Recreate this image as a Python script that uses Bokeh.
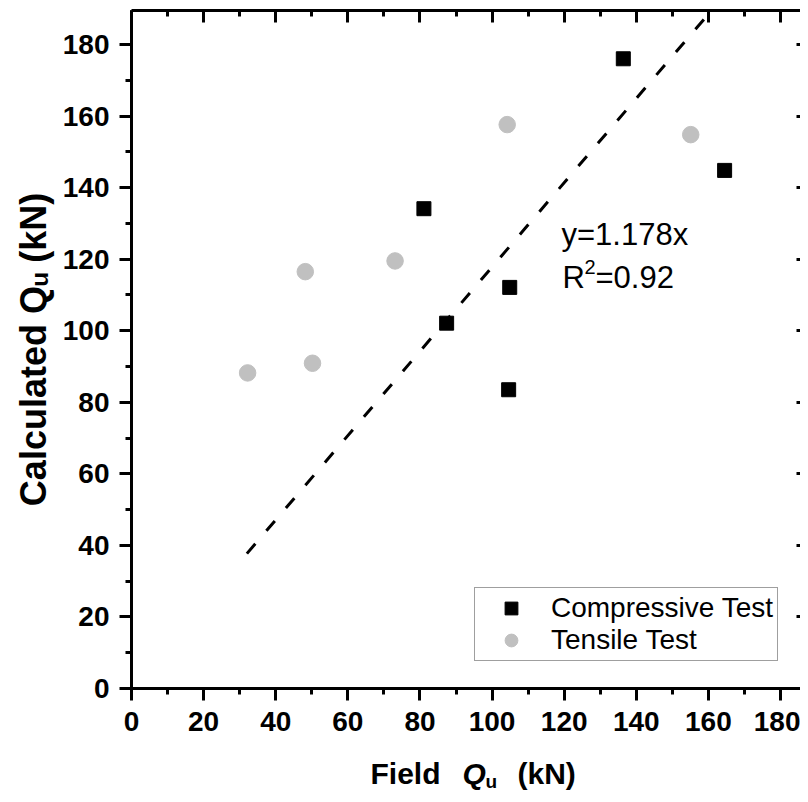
from bokeh.plotting import figure
from bokeh.layouts import column
from bokeh.models import (Label, LinearAxis, SingleIntervalTicker, Range1d,
                          Legend, LegendItem, CustomJSTickFormatter)
from bokeh.embed import file_html
from bokeh.resources import INLINE

# ---------------- data ----------------
comp_x = [136.4, 164.5, 81.1, 87.4, 104.9, 104.6]
comp_y = [176.0, 144.8, 134.1, 102.1, 112.1, 83.5]
tens_x = [32.2, 48.2, 50.2, 73.1, 104.2, 155.1]
tens_y = [88.2, 116.5, 90.9, 119.5, 157.6, 154.8]
slope = 1.178
r_squared = 0.92
fit_x = [32.0, 170.0]
fit_y = [slope * v for v in fit_x]
series_names = ["Compressive Test", "Tensile Test"]
x_label_parts = ["Field", "Q", "u", "(kN)"]
y_label = "Calculated Q\u1d64 (kN)"

FONT = "Liberation Sans"
BASE = 0.29   # observed shift between label anchor and drawn baseline (em)

# page geometry
W, H = 800, 794
MAIN_H = 748            # height of the main figure
FL, FB = 131.0, 688.0   # frame left / bottom on page
PX_X, PX_Y = 3.6056, 3.578

p = figure(width=W, height=MAIN_H,
           x_range=Range1d(0, (W - FL) / PX_X),
           y_range=Range1d(0, (FB - 10) / PX_Y),
           output_backend="svg", toolbar_location=None,
           min_border_left=int(FL), min_border_right=0,
           min_border_top=10, min_border_bottom=MAIN_H - int(FB))
p.outline_line_color = None
p.grid.visible = False


def style_axis(ax, inward=False):
    ax.ticker = SingleIntervalTicker(interval=20, num_minor_ticks=2)
    ax.axis_line_width = 3
    ax.axis_line_color = "black"
    ax.major_tick_line_width = 3
    ax.minor_tick_line_width = 3
    ax.major_tick_line_color = "black"
    ax.minor_tick_line_color = "black"
    if inward:
        ax.major_tick_in, ax.major_tick_out = 12, 0
        ax.minor_tick_in, ax.minor_tick_out = 6, 0
        ax.formatter = CustomJSTickFormatter(code="return ''")
        ax.major_label_text_font_size = "1px"
        ax.major_label_standoff = 0
    else:
        ax.major_tick_in, ax.major_tick_out = 0, 12
        ax.minor_tick_in, ax.minor_tick_out = 0, 6
        ax.major_label_text_font = FONT
        ax.major_label_text_font_style = "bold"
        ax.major_label_text_font_size = "28px"
        ax.major_label_text_color = "black"


style_axis(p.xaxis[0])
style_axis(p.yaxis[0])
p.xaxis[0].major_label_standoff = 11
p.yaxis[0].major_label_standoff = 10

yax = p.yaxis[0]
yax.axis_label = y_label
yax.axis_label_text_font = FONT
yax.axis_label_text_font_style = "bold"
yax.axis_label_text_font_size = "36px"
yax.axis_label_text_color = "black"
yax.axis_label_standoff = 6

top = LinearAxis()
style_axis(top, inward=True)
p.add_layout(top, "above")

right = LinearAxis()
style_axis(right, inward=True)
right.axis_line_color = None
right.major_tick_in = 4
right.minor_tick_line_color = None
p.add_layout(right, "right")

# fit line
p.line(fit_x, fit_y, line_color="black", line_width=3, line_dash="13 17")

r1 = p.scatter(comp_x, comp_y, marker="square", size=14,
               fill_color="black", line_color="black")
r2 = p.scatter(tens_x, tens_y, marker="circle", size=16.5,
               fill_color="#c0c0c0", line_color="#c0c0c0")

legend = Legend(items=[LegendItem(label=series_names[0], renderers=[r1]),
                       LegendItem(label=series_names[1], renderers=[r2])],
                location=(474 - FL, FB - 661), margin=0, padding=4,
                spacing=0, glyph_width=64, glyph_height=32, label_standoff=8,
                label_text_font=FONT, label_text_font_size="28px",
                label_text_color="black",
                border_line_color="#404040", border_line_width=1,
                background_fill_color="white", background_fill_alpha=1)
p.add_layout(legend)


def lab(fig, text, x, y, size, style="normal"):
    fig.add_layout(Label(x=x, y=y, text=text, x_units="data",
                         y_units="data", text_font=FONT,
                         text_font_size=f"{size}px", text_font_style=style,
                         text_color="black",
                         text_align="left", text_baseline="alphabetic"))


def mx(px):
    return (px - FL) / PX_X


def my(py):
    return (FB - py) / PX_Y


# equation annotations (page baseline -> anchor)
lab(p, f"y={slope}x", mx(561), my(243 - BASE * 31), 31)
lab(p, "R", mx(562), my(286 - BASE * 31), 31)
lab(p, "2", mx(584), my(272 - BASE * 20), 20)
lab(p, f"={r_squared}", mx(595), my(286 - BASE * 31), 31)

# ---- x-title strip (below the main figure; its frame aligns with main) ----
XH = H - MAIN_H
xf = figure(width=W, height=XH, x_range=Range1d(FL, W),
            y_range=Range1d(0, XH), output_backend="svg",
            toolbar_location=None, x_axis_location=None,
            y_axis_location=None, min_border=0,
            min_border_left=int(FL), min_border_right=0)
xf.outline_line_color = None
xf.grid.visible = False


def by(py):
    return H - py


lab(xf, x_label_parts[0], 370, by(782 - BASE * 30), 30, "bold")
lab(xf, x_label_parts[1], 462, by(782 - BASE * 30), 30, "bold italic")
lab(xf, x_label_parts[2], 485, by(787 - BASE * 19), 19, "bold")
lab(xf, x_label_parts[3], 517, by(782 - BASE * 30), 30, "bold")

layout = column(p, xf, spacing=0)

open("out.html", "w").write(file_html(layout, INLINE))
